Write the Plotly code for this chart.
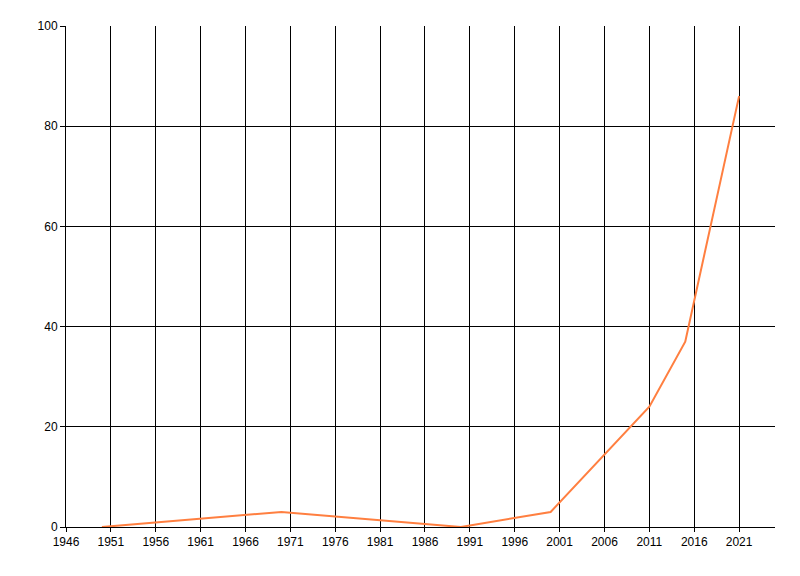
import plotly.graph_objects as go

years = [1950, 1970, 1990, 2000, 2011, 2015, 2021]
values = [0, 3, 0, 3, 24, 37, 86]
x_ticks = list(range(1946, 2022, 5))
y_ticks = [0, 20, 40, 60, 80, 100]

fig = go.Figure()
fig.add_trace(go.Scatter(
    x=years, y=values, mode="lines",
    line=dict(color="#FF7F40", width=2),
    showlegend=False,
))

axis_font = dict(family="Liberation Sans, Arial, sans-serif", size=12, color="#000000")
fig.update_layout(
    width=792, height=568,
    margin=dict(l=58, r=25, t=18, b=49),
    paper_bgcolor="white", plot_bgcolor="white",
    xaxis=dict(
        range=[1946, 2025], tickvals=x_ticks, ticktext=[str(v) for v in x_ticks],
        showgrid=True, gridcolor="black", gridwidth=1,
        showline=True, linecolor="black", linewidth=1,
        ticks="outside", ticklen=4, tickcolor="black",
        zeroline=False, tickfont=axis_font,
    ),
    yaxis=dict(
        range=[0, 100], tickvals=y_ticks,
        showgrid=True, gridcolor="black", gridwidth=1,
        showline=True, linecolor="black", linewidth=1,
        ticks="outside", ticklen=5, tickcolor="black",
        zeroline=False, tickfont=axis_font,
    ),
)

fig.write_html("out.html")
